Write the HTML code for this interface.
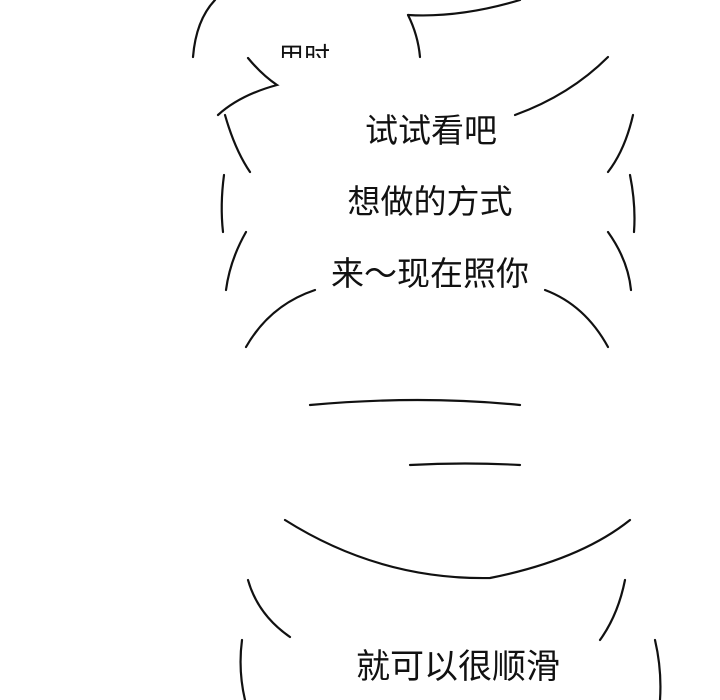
<!DOCTYPE html>
<html><head><meta charset="utf-8"><style>
html,body{margin:0;padding:0;background:#fff;}
svg{display:block}
text{font-family:"Liberation Sans","Noto Sans CJK SC",sans-serif;fill:#111;}
</style></head><body>
<svg width="720" height="700" viewBox="0 0 720 700" xmlns="http://www.w3.org/2000/svg">
<g fill="none" stroke="#111" stroke-width="2.2" stroke-linecap="round">
<path d="M193 57 Q196 20 215 0"/>
<path d="M408 15 Q460 18 520 0"/>
<path d="M408 15 Q418 35 420 57"/>
<path d="M248 58 Q262 75 277 85 Q240 95 218 115"/>
<path d="M608 57 Q570 95 515 115"/>
<path d="M225 115 Q235 150 250 172"/>
<path d="M224 175 Q220 205 223 232"/>
<path d="M246 232 Q230 260 226 290"/>
<path d="M633 115 Q625 150 608 172"/>
<path d="M630 175 Q636 205 634 232"/>
<path d="M608 232 Q628 260 631 290"/>
<path d="M246 347 Q270 305 315 290"/>
<path d="M608 347 Q585 305 545 290"/>
<path d="M310 405 Q420 395 520 405"/>
<path d="M410 465 Q465 462 520 465"/>
<path d="M285 520 Q380 580 490 578 Q580 560 630 520"/>
<path d="M248 580 Q258 615 290 637"/>
<path d="M625 580 Q618 615 600 640"/>
<path d="M242 640 Q238 670 245 700"/>
<path d="M655 640 Q662 670 660 700"/>
</g>
<text x="278" y="66" font-size="26">用时</text>
<rect x="270" y="58" width="80" height="20" fill="#fff"/>
<text x="431" y="142" font-size="33" text-anchor="middle">试试看吧</text>
<text x="430" y="213" font-size="33" text-anchor="middle">想做的方式</text>
<text x="430" y="285" font-size="33" text-anchor="middle">来～现在照你</text>
<text x="458" y="678" font-size="34" text-anchor="middle">就可以很顺滑</text>
</svg>
</body></html>
